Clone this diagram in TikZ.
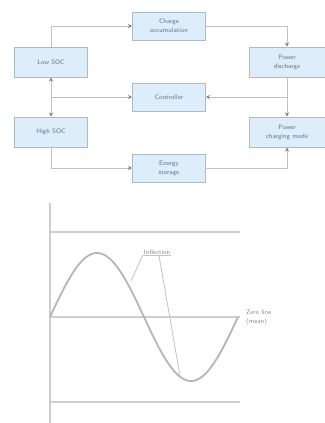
\documentclass[tikz,border=0pt]{standalone}
\usetikzlibrary{arrows.meta, positioning, calc}
\definecolor{cfill}{HTML}{DDEDF9}
\definecolor{cedge}{HTML}{A9BCCB}
\definecolor{cline}{HTML}{C2C2C2}
\definecolor{ctext}{HTML}{5E7386}
\definecolor{ccurve}{HTML}{B5B5B5}
\definecolor{cgrey}{HTML}{8A8A8A}
\tikzset{
  every picture/.style={font=\sffamily\fontsize{6.5}{9}\selectfont},
  box/.style={draw=cedge, fill=cfill, line width=1pt, align=center, text=ctext, minimum width=73bp, minimum height=28bp, inner sep=2pt},
  link/.style={draw=cline, line width=1pt},
  arrow/.style={link, -{Stealth[length=4bp, width=4bp, color=gray]}},
  guide/.style={draw=cline!80, line width=1.1pt},
  note/.style={text=cgrey, align=left, inner sep=1pt},
}

\begin{document}
\begin{tikzpicture}[x=1bp, y=-1bp]
  \useasboundingbox (0,0) rectangle (325,423);
  % cycle of states
  \node[box] (conv) at (169,26) {Charge\\accumulation};
  \node[box, minimum height=30bp] (low) at (51,62) {Low SOC};
  \node[box] (ctrl) at (169,97) {Controller};
  \node[box, minimum height=30bp] (high) at (51,132) {High SOC};
  \node[box, minimum width=76bp, minimum height=30bp] (dis) at (287,62) {Power\\discharge};
  \node[box, minimum width=76bp, minimum height=30bp] (chg) at (287,132) {Power\\charging mode};
  \node[box] (store) at (169,168) {Energy\\storage};
  \coordinate (ml) at (51,97);
  \coordinate (mr) at (287,97);
  \draw[arrow] (low.north) |- (conv.west);
  \draw[arrow] (conv.east) -| (dis.north);
  \draw[arrow] (ml) -- (low.south);
  \draw[arrow] (ml) -- (high.north);
  \draw[arrow] (ml) -- (ctrl.west);
  \draw[link] (dis.south) -- (mr);
  \draw[arrow] (mr) -- (ctrl.east);
  \draw[arrow] (mr) -- (chg.north);
  \draw[arrow] (high.south) |- (store.west);
  \draw[arrow] (store.east) -| (chg.south);
  % waveform
  \draw[guide] (50,203) -- (50,423);
  \draw[guide] (50,232) -- (240,232);
  \draw[guide] (50,402) -- (240,402);
  \draw[guide] (50,317) -- (240,317);
  \draw[ccurve, line width=1.8pt] plot[domain=0:360, samples=100, smooth] ({50+\x/360*188},{317-64*sin(\x)});
  \node[note] (infl) at (157,252) {Inflection};
  \coordinate (hit) at (131,281);
  \coordinate (foot) at (180,376);
  \draw[link, line width=0.8pt] (infl.south west) -- (infl.south east);
  \draw[link, line width=0.8pt] (infl.south west) -- (hit);
  \draw[link, line width=0.8pt] ($(infl.south)+(2,0)$) -- (foot);
  \node[note, anchor=west] (mean) at (245,318) {Zero line\\(mean)};
\end{tikzpicture}
\end{document}
